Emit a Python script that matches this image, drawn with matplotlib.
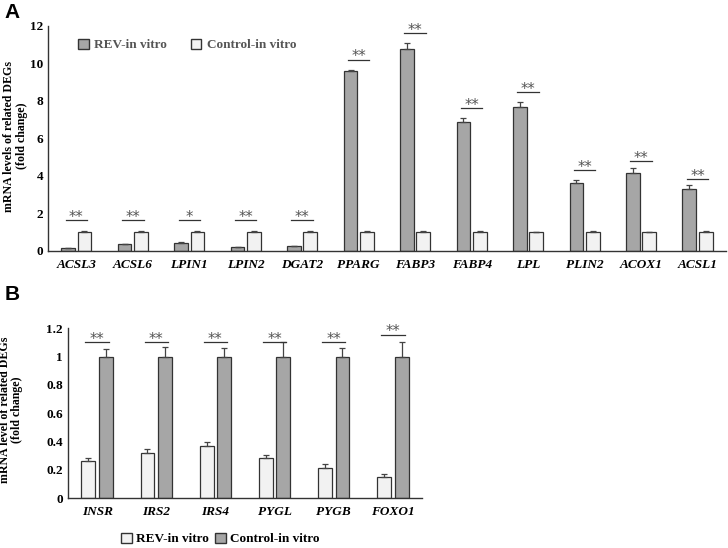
import numpy as np
import matplotlib
matplotlib.use("Agg")
import matplotlib.pyplot as plt
from matplotlib.patches import Patch

plt.rcParams["font.family"] = ["Liberation Serif", "DejaVu Serif"]

# panel A data
genes_a = ["ACSL3", "ACSL6", "LPIN1", "LPIN2", "DGAT2", "PPARG",
           "FABP3", "FABP4", "LPL", "PLIN2", "ACOX1", "ACSL1"]
rev_a = [0.15, 0.35, 0.45, 0.2, 0.25, 9.6, 10.75, 6.88, 7.68, 3.6, 4.15, 3.3]
rev_a_err = [0.02, 0.02, 0.02, 0.02, 0.03, 0.03, 0.35, 0.2, 0.27, 0.19, 0.26, 0.2]
ctrl_a = [1.0, 1.0, 1.0, 1.0, 1.0, 1.0, 1.0, 1.0, 1.0, 1.0, 1.0, 1.0]
ctrl_a_err = [0.04, 0.06, 0.04, 0.08, 0.04, 0.09, 0.06, 0.05, 0.03, 0.05, 0.03, 0.05]
sig_a = ["**", "**", "*", "**", "**", "**", "**", "**", "**", "**", "**", "**"]
sig_a_y = [1.65, 1.65, 1.65, 1.65, 1.65, 10.2, 11.6, 7.6, 8.45, 4.3, 4.8, 3.85]

# panel B data
genes_b = ["INSR", "IRS2", "IRS4", "PYGL", "PYGB", "FOXO1"]
rev_b = [0.26, 0.32, 0.37, 0.285, 0.215, 0.15]
rev_b_err = [0.025, 0.03, 0.03, 0.02, 0.025, 0.02]
ctrl_b = [1.0, 1.0, 1.0, 1.0, 1.0, 1.0]
ctrl_b_err = [0.05, 0.07, 0.06, 0.1, 0.06, 0.1]
sig_b_y = [1.105, 1.105, 1.105, 1.105, 1.105, 1.155]

GREY = "#a6a6a6"
WHITE = "#f2f2f2"
EDGE = "#333333"


def style_axes(ax):
    for s in ["top", "right"]:
        ax.spines[s].set_visible(False)
    for s in ["left", "bottom"]:
        ax.spines[s].set_color("#333333")
        ax.spines[s].set_linewidth(1.0)
    ax.tick_params(length=0, labelsize=9.5)
    ax.tick_params(axis="x", pad=6)
    for lab in ax.get_yticklabels():
        lab.set_fontweight("bold")
    for lab in ax.get_xticklabels():
        lab.set_fontweight("bold")
        lab.set_fontstyle("italic")


def sig_marks(ax, xs, ys, marks, half):
    for x, y, m in zip(xs, ys, marks):
        ax.plot([x - half, x + half], [y, y], color="#333333", lw=0.9)
        ax.annotate(m, (x, y), xytext=(0, -3.5), textcoords="offset points",
                    ha="center", va="bottom", fontsize=10.5, color="#555555",
                    family="DejaVu Sans")


fig = plt.figure(figsize=(7.28, 5.48), dpi=100)

# ---- panel A
ax1 = fig.add_axes([0.066, 0.542, 0.931, 0.411])
x = np.arange(len(genes_a))
w = 0.245
ax1.bar(x - 0.145, rev_a, w, color=GREY, edgecolor=EDGE, linewidth=0.9,
        yerr=[np.zeros(len(x)), rev_a_err],
        error_kw=dict(ecolor="#444444", elinewidth=0.9, capsize=2.5, capthick=0.9))
ax1.bar(x + 0.145, ctrl_a, w, color=WHITE, edgecolor=EDGE, linewidth=0.9,
        yerr=[np.zeros(len(x)), ctrl_a_err],
        error_kw=dict(ecolor="#444444", elinewidth=0.9, capsize=2.5, capthick=0.9))
ax1.set_xlim(-0.5, 11.5)
ax1.set_ylim(0, 12)
ax1.set_yticks([0, 2, 4, 6, 8, 10, 12])
ax1.set_xticks(x)
ax1.set_xticklabels(genes_a)
ax1.set_ylabel("mRNA levels of related DEGs\n(fold change)", fontsize=8.6,
               fontweight="bold", linespacing=1.05)
ax1.yaxis.set_label_coords(-0.03, 0.51)
style_axes(ax1)
sig_marks(ax1, x, sig_a_y, sig_a, 0.19)
handles = [Patch(facecolor=GREY, edgecolor=EDGE, label="REV-in vitro"),
           Patch(facecolor=WHITE, edgecolor=EDGE, label="Control-in vitro")]
leg = ax1.legend(handles=handles, loc="upper left", bbox_to_anchor=(0.027, 0.995),
                 ncol=2, frameon=False, handlelength=0.8, handleheight=0.8,
                 handletextpad=0.4, columnspacing=1.8,
                 prop=dict(weight="bold", size=9.5))
for t in leg.get_texts():
    t.set_color("#555555")

# ---- panel B
ax2 = fig.add_axes([0.093, 0.091, 0.487, 0.31])
xb = np.arange(len(genes_b))
wb = 0.235
ax2.bar(xb - 0.15, rev_b, wb, color=WHITE, edgecolor=EDGE, linewidth=0.9,
        yerr=[np.zeros(len(xb)), rev_b_err],
        error_kw=dict(ecolor="#444444", elinewidth=0.9, capsize=2.5, capthick=0.9))
ax2.bar(xb + 0.15, ctrl_b, wb, color=GREY, edgecolor=EDGE, linewidth=0.9,
        yerr=[np.zeros(len(xb)), ctrl_b_err],
        error_kw=dict(ecolor="#444444", elinewidth=0.9, capsize=2.5, capthick=0.9))
ax2.set_xlim(-0.5, 5.5)
ax2.set_ylim(0, 1.2)
ax2.set_yticks([0, 0.2, 0.4, 0.6, 0.8, 1.0, 1.2])
ax2.set_yticklabels(["0", "0.2", "0.4", "0.6", "0.8", "1", "1.2"])
ax2.set_xticks(xb)
ax2.set_xticklabels(genes_b)
ax2.set_ylabel("mRNA level of related DEGs\n(fold change)", fontsize=8.6,
               fontweight="bold", linespacing=1.05)
ax2.yaxis.set_label_coords(-0.125, 0.52)
style_axes(ax2)
sig_marks(ax2, xb, sig_b_y, ["**"] * len(xb), 0.2)
handles_b = [Patch(facecolor=WHITE, edgecolor=EDGE, label="REV-in vitro"),
             Patch(facecolor=GREY, edgecolor=EDGE, label="Control-in vitro")]
ax2.legend(handles=handles_b, loc="center", bbox_to_anchor=(0.43, -0.24),
           ncol=2, frameon=False, handlelength=0.8, handleheight=0.8,
           handletextpad=0.3, columnspacing=0.5,
           prop=dict(weight="bold", size=9.5))

fig.text(0.006, 0.978, "A", fontsize=15, fontweight="bold", family="Liberation Sans",
         va="center")
fig.text(0.006, 0.463, "B", fontsize=15, fontweight="bold", family="Liberation Sans",
         va="center")

fig.savefig("out.png", dpi=100)
